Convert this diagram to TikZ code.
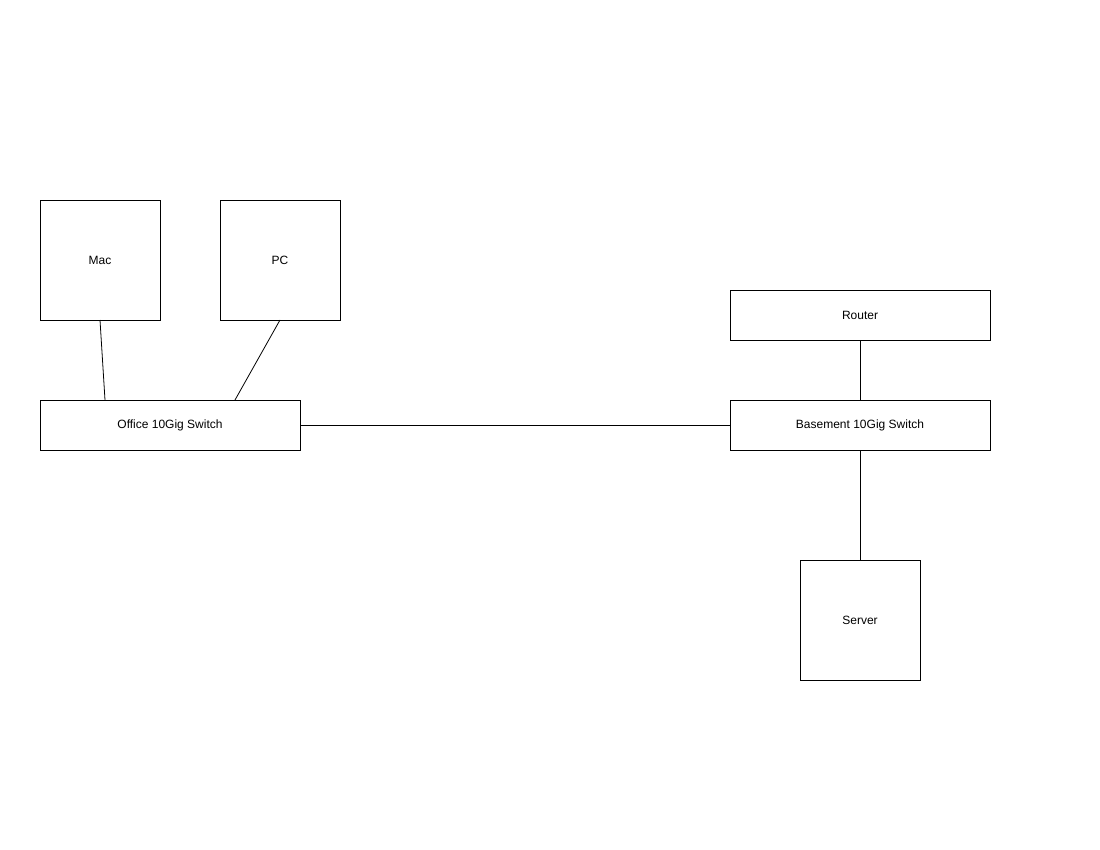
\documentclass[tikz,border=0pt]{standalone}
\usepackage{fontspec}
\setmainfont{Liberation Sans}
\begin{document}
\begin{tikzpicture}[x=1pt,y=-1pt,
  box/.style={draw,line width=0.8pt,inner sep=0pt,outer sep=0pt,font=\fontsize{12}{14}\selectfont},
  wide/.style={box,minimum width=260pt,minimum height=50pt},
  square/.style={box,minimum width=120pt,minimum height=120pt},
  link/.style={line width=0.8pt}]
\useasboundingbox (0,0) rectangle (1100,850);
% office side
\node[square] (mac) at (100,260) {Mac};
\node[square] (pc) at (280,260) {PC};
\node[wide] (office) at (170,425) {Office 10Gig Switch};
% basement side
\node[wide] (router) at (860,315) {Router};
\node[wide] (basement) at (860,425) {Basement 10Gig Switch};
\node[square] (server) at (860,620) {Server};
\draw[link] (mac.south) -- ([xshift=65pt]office.north west);
\draw[link] (pc.south) -- ([xshift=195pt]office.north west);
\draw[link] (office.east) -- (basement.west);
\draw[link] (router.south) -- (basement.north);
\draw[link] (basement.south) -- (server.north);
\end{tikzpicture}
\end{document}
